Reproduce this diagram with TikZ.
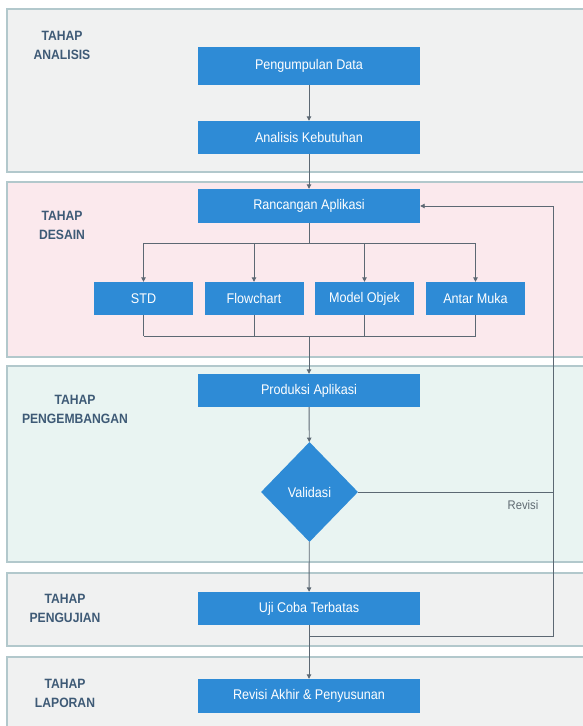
\documentclass[tikz,border=0pt]{standalone}
\usepackage{fontspec}
\setmainfont{Liberation Sans}[FakeStretch=0.9]
\usetikzlibrary{shapes.geometric,arrows.meta}
\definecolor{boxblue}{RGB}{46,139,214}
\definecolor{pgray}{RGB}{240,241,241}
\definecolor{ppink}{RGB}{251,233,237}
\definecolor{pcyan}{RGB}{233,244,242}
\definecolor{panelline}{RGB}{178,200,204}
\definecolor{linecol}{RGB}{92,104,115}
\definecolor{lblcol}{RGB}{62,90,118}
\definecolor{revcol}{RGB}{95,106,114}
\begin{document}
\begin{tikzpicture}[x=1pt,y=-1pt,
  box/.style={fill=boxblue,draw=none,text=white,minimum width=222pt,minimum height=34pt,inner sep=0pt,font=\fontsize{14}{16}\selectfont},
  child/.style={box,minimum width=99pt,minimum height=33pt},
  dec/.style={diamond,fill=boxblue,draw=none,text=white,minimum width=97pt,minimum height=100pt,inner sep=0pt,font=\fontsize{14}{16}\selectfont},
  phase/.style={fill=#1,draw=panelline,line width=1.5pt},
  lbl/.style={text=lblcol,font=\bfseries\fontsize{13.5}{19}\selectfont,align=center,inner sep=0pt},
  revlbl/.style={text=revcol,font=\fontsize{12.5}{14}\selectfont,inner sep=0pt},
  conn/.style={draw=linecol,line width=0.9pt},
  arr/.style={conn,-{Triangle[width=4.5pt,length=4.5pt]}},
]
\useasboundingbox (0,0) rectangle (583,726);
\clip (0,0) rectangle (583,726);
\fill[white] (0,0) rectangle (583,726);
% phase panels
\draw[phase=pgray] (7,9) rectangle (600,172);
\draw[phase=ppink] (7,182) rectangle (600,357);
\draw[phase=pcyan] (7,366) rectangle (600,562);
\draw[phase=pgray] (7,573) rectangle (600,646);
\draw[phase=pgray] (7,657) rectangle (600,740);
% phase labels
\node[lbl] (lA) at (62,45.5) {TAHAP\\ANALISIS};
\node[lbl] (lD) at (62,225) {TAHAP\\DESAIN};
\node[lbl] (lP) at (75,409.5) {TAHAP\\PENGEMBANGAN};
\node[lbl] (lU) at (65,608) {TAHAP\\PENGUJIAN};
\node[lbl] (lL) at (65,693) {TAHAP\\LAPORAN};
% boxes
\node[box,minimum height=38pt] (pd) at (309,66) {Pengumpulan Data};
\node[box,minimum height=33pt] (ak) at (309,137.5) {Analisis Kebutuhan};
\node[box] (ra) at (309,206) {Rancangan Aplikasi};
\node[child] (std) at (143.5,298.5) {STD};
\node[child] (fc) at (254,298.5) {Flowchart};
\node[child] (mo) at (364.5,298.5) {Model Objek};
\node[child] (am) at (475.5,298.5) {Antar Muka};
\node[box,minimum height=33pt] (pa) at (309,390.5) {Produksi Aplikasi};
\node[dec] (va) at (309.5,492) {Validasi};
\node[box,minimum height=33pt] (uc) at (309,608.5) {Uji Coba Terbatas};
\node[box] (rk) at (309,696) {Revisi Akhir \& Penyusunan};
% helper coordinates
\coordinate (split) at (309,243);
\coordinate (join) at (309,336);
\coordinate (rv) at (553,492);
\coordinate (rt) at (553,206);
\coordinate (rb) at (553,636);
% connectors
\draw[arr] (pd) -- (ak);
\draw[arr] (ak) -- (ra);
\draw[conn] (ra.south) -- (split);
\draw[conn] (std.north |- split) -- (am.north |- split);
\foreach \c in {std,fc,mo,am} \draw[arr] (\c.north |- split) -- (\c.north);
\foreach \c in {std,fc,mo,am} \draw[conn] (\c.south) -- (\c.south |- join);
\draw[conn] (std.south |- join) -- (am.south |- join);
\draw[arr] (join) -- (pa);
\draw[arr] (pa) -- (va);
\draw[arr] (va) -- (uc);
\draw[arr] (uc) -- (rk);
\draw[conn] (va.east) -- (rv);
\draw[arr] (rv) -- (rt) -- (ra.east);
\draw[conn] (rv) -- (rb) -- (uc.south |- rb);
\node[revlbl] (rl) at (523,505) {Revisi};
\end{tikzpicture}
\end{document}
